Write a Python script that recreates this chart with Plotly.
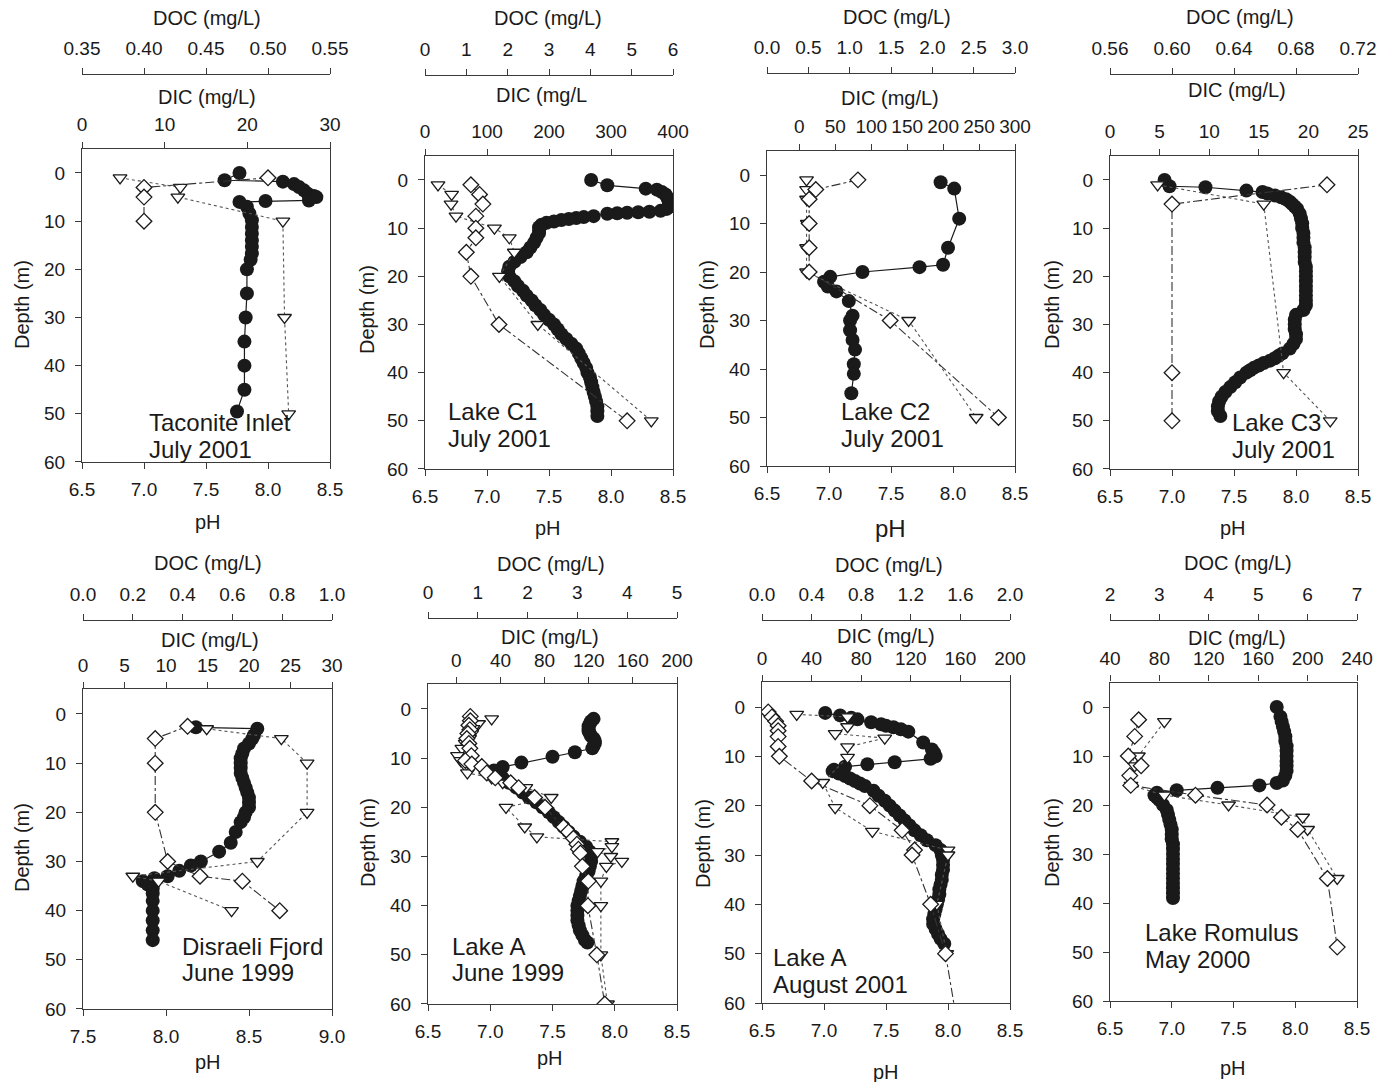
import plotly.graph_objects as go

W, H = 1393, 1082
FONT = "Liberation Sans, Arial, sans-serif"

# ---------------- Taconite Inlet, July 2001 ----------------
taconite_ph_depth = [0, 1.5, 1.8, 2.3, 2.9, 3.6, 4.3, 4.8, 5.0, 5.7, 5.8, 6.0, 7, 8.4, 9.8,
                     11.2, 12.6, 14, 15.3, 16.7, 18, 20, 25, 30, 35, 40, 45, 49.5]
taconite_ph = [7.77, 7.65, 8.12, 8.21, 8.25, 8.29, 8.32, 8.37, 8.39, 8.33, 7.98, 7.77, 7.83, 7.85, 7.87,
               7.87, 7.87, 7.87, 7.87, 7.87, 7.86, 7.83, 7.83, 7.82, 7.81, 7.81, 7.81, 7.75]
taconite_dic_depth = [1, 3, 5, 10, 30, 50]
taconite_dic = [4.6, 11.9, 11.6, 24.3, 24.5, 25.0]
taconite_doc_depth = [1, 3, 5, 10]
taconite_doc = [0.50, 0.40, 0.40, 0.40]

# ---------------- Lake C1, July 2001 ----------------
c1_ph_depth = [0, 1.1, 1.8, 2.0, 2.5, 3, 3.5, 4, 4.5, 5, 5.5, 6, 6.4, 6.6, 6.7, 6.8, 6.9, 7.0, 7.5, 7.7,
               7.9, 8.1, 8.3, 8.6, 8.9, 9.3, 9.8, 10.5, 11, 12, 13, 14, 15, 16, 17, 18, 19, 20, 21, 22,
               23, 24, 25, 26, 27, 28, 29, 30, 31, 32, 33, 34, 35, 36, 37, 38, 39, 40, 41, 42,
               43, 44, 45, 46, 47, 48, 49]
c1_ph = [7.84, 7.97, 8.28, 8.37, 8.41, 8.44, 8.45, 8.46, 8.47, 8.47, 8.47, 8.45, 8.40, 8.31, 8.22, 8.13, 8.05, 7.97, 7.86, 7.78,
         7.72, 7.66, 7.60, 7.54, 7.48, 7.44, 7.42, 7.42, 7.42, 7.40, 7.38, 7.35, 7.32, 7.27, 7.22, 7.18, 7.17, 7.18, 7.22, 7.25,
         7.29, 7.32, 7.36, 7.39, 7.43, 7.46, 7.50, 7.54, 7.57, 7.60, 7.64, 7.68, 7.72, 7.74, 7.76, 7.78, 7.80, 7.81, 7.83, 7.84,
         7.85, 7.86, 7.87, 7.88, 7.89, 7.89, 7.89]
c1_dic_depth = [1, 3, 5, 7.5, 10, 12, 15, 20, 30, 50]
c1_dic = [21, 43, 42, 50, 112, 136, 144, 120, 182, 365]
c1_doc_depth = [1, 3, 5, 7.5, 10, 12, 15, 20, 30, 50]
c1_doc = [1.11, 1.32, 1.40, 1.23, 1.23, 1.23, 1.00, 1.11, 1.79, 4.89]

# ---------------- Lake C2, July 2001 ----------------
c2_ph_depth = [1.5, 2.8, 9, 15, 18.5, 19, 20, 21, 22, 23, 24, 26, 29, 30, 32, 34, 36, 39, 41, 45]
c2_ph = [7.90, 8.01, 8.05, 7.96, 7.92, 7.73, 7.27, 7.01, 6.96, 6.99, 7.06, 7.16, 7.19, 7.17, 7.17, 7.19, 7.21, 7.20, 7.20, 7.18]
c2_dic_depth = [1, 3, 5, 10, 15, 20, 30, 50]
c2_dic = [10, 10, 10, 11, 10, 10, 152, 246]
c2_doc_depth = [1, 3, 5, 10, 15, 20, 30, 50]
c2_doc = [1.10, 0.59, 0.51, 0.51, 0.51, 0.51, 1.49, 2.80]

# ---------------- Lake C3, July 2001 ----------------
c3_ph_depth = [0, 1.3, 1.5, 2.2, 2.5, 2.8, 3.2, 3.6, 4, 4.5, 5, 5.5, 6, 7, 8, 9, 10, 11, 12, 13,
               14, 15, 16, 17, 18, 19, 20, 21, 22, 23, 24, 25, 26, 27, 28, 29, 30, 31, 32, 33,
               34, 35, 36, 36.5, 37, 37.5, 38, 38.5, 39, 39.5, 40, 41, 42, 43, 44, 45, 46, 47, 48, 49]
c3_ph = [6.94, 6.98, 7.27, 7.60, 7.73, 7.77, 7.83, 7.88, 7.92, 7.95, 7.97, 7.99, 8.01, 8.03, 8.04, 8.05, 8.05, 8.06, 8.06, 8.06,
         8.07, 8.07, 8.07, 8.07, 8.08, 8.08, 8.08, 8.08, 8.08, 8.08, 8.08, 8.08, 8.08, 8.06, 8.00, 7.99, 7.99, 7.99, 8.00, 8.00,
         7.98, 7.95, 7.89, 7.86, 7.83, 7.79, 7.74, 7.70, 7.66, 7.63, 7.60, 7.55, 7.51, 7.47, 7.43, 7.40, 7.38, 7.37, 7.37, 7.39]
c3_dic_depth = [1, 5, 40, 50]
c3_dic = [4.8, 15.5, 17.5, 22.2]
c3_doc_depth = [1, 5, 40, 50]
c3_doc = [0.70, 0.60, 0.60, 0.60]

# ---------------- Disraeli Fjord, June 1999 ----------------
disraeli_ph_depth = [2.7, 3.0, 4.3, 5, 6, 7, 8, 9, 10, 11, 12, 13, 14, 15, 16, 17, 18, 19, 20, 21, 22,
                     24, 26.2, 28, 30, 30.8, 31.9, 33.0, 33.4, 34.0, 34.7, 35.5, 36.5, 38, 40, 42, 44, 46]
disraeli_ph = [8.18, 8.55, 8.53, 8.52, 8.50, 8.47, 8.46, 8.45, 8.45, 8.45, 8.45, 8.46, 8.47, 8.48, 8.49, 8.50, 8.50, 8.50, 8.48, 8.47, 8.45,
               8.42, 8.39, 8.32, 8.21, 8.15, 8.08, 8.01, 7.93, 7.86, 7.89, 7.92, 7.92, 7.92, 7.92, 7.92, 7.92, 7.92]
disraeli_dic_depth = [3, 5, 10, 20, 30, 33, 34, 40]
disraeli_dic = [14.9, 23.9, 27.0, 27.0, 21.0, 6.0, 9.1, 17.9]
disraeli_doc_depth = [2.5, 5, 10, 20, 30, 33, 34, 40]
disraeli_doc = [0.42, 0.29, 0.29, 0.29, 0.34, 0.47, 0.64, 0.79]

# ---------------- Lake A, June 1999 ----------------
a99_ph_depth = [2, 2.5, 3, 3.5, 4, 4.5, 5, 5.5, 6, 6.5, 7, 7.5, 8, 8.8, 9.7, 10.9, 11.8, 12.5, 13, 14,
                15, 16, 17, 18, 19, 20, 21, 22, 23, 24, 25, 26, 27, 28, 29, 30, 31, 32, 33, 34,
                35, 36, 37, 38, 39, 40, 41, 42, 43, 44, 45, 46, 47, 47.5]
a99_ph = [7.83, 7.81, 7.80, 7.79, 7.79, 7.79, 7.80, 7.81, 7.83, 7.84, 7.84, 7.83, 7.82, 7.68, 7.50, 7.25, 7.10, 7.03, 7.05, 7.10,
          7.15, 7.21, 7.26, 7.31, 7.37, 7.42, 7.47, 7.51, 7.55, 7.59, 7.63, 7.67, 7.72, 7.77, 7.80, 7.81, 7.81, 7.80, 7.79, 7.77,
          7.75, 7.74, 7.73, 7.72, 7.71, 7.70, 7.70, 7.70, 7.70, 7.71, 7.72, 7.74, 7.76, 7.78]
a99_dic_depth = [2, 3, 4, 5, 6, 7, 8, 9.5, 10.5, 11.5, 13, 14, 15, 16, 18, 20, 24, 26, 27, 28,
                 29, 30, 31, 32, 35, 40, 50, 60]
a99_dic = [32, 20, 15, 14, 12, 8, 5, 1, 4, 8, 10, 32, 42, 63, 86, 45, 62, 73, 141, 141,
           128, 140, 150, 136, 131, 131, 131, 137]
a99_doc_depth = [1.5, 2.4, 3.3, 4.2, 5, 6, 7, 8, 9.5, 10.5, 11.2, 11.7, 13, 14, 15, 16, 18, 20, 24, 25,
                 26.3, 27.5, 28.5, 29.3, 32, 35, 40, 50, 60]
a99_doc = [0.85, 0.85, 0.82, 0.84, 0.80, 0.78, 0.82, 0.84, 0.87, 0.75, 0.88, 1.08, 1.18, 1.35, 1.66, 1.82, 2.14, 2.35, 2.72, 2.82,
           2.92, 2.99, 3.02, 3.06, 3.10, 3.22, 3.21, 3.39, 3.55]

# ---------------- Lake A, August 2001 ----------------
a01_ph_depth = [1.2, 1.7, 2.2, 2.5, 3.1, 3.5, 3.8, 4.1, 4.5, 5.0, 7.2, 8.6, 9.3, 10, 10.5, 11.2, 11.6, 12.1, 12.7, 13,
                13.5, 14, 14.5, 15, 15.5, 16, 17, 18, 19, 20, 21, 22, 23, 24, 25, 26, 27, 28, 29, 30,
                31, 32, 33, 34, 35, 36, 37, 38, 39, 40, 41, 42, 43, 44, 45, 46, 47, 48]
a01_ph = [7.01, 7.13, 7.22, 7.27, 7.38, 7.46, 7.50, 7.56, 7.62, 7.68, 7.80, 7.87, 7.89, 7.90, 7.86, 7.57, 7.35, 7.17, 7.08, 7.07,
          7.12, 7.17, 7.21, 7.25, 7.29, 7.33, 7.40, 7.44, 7.49, 7.53, 7.57, 7.61, 7.65, 7.69, 7.73, 7.78, 7.83, 7.90, 7.94, 7.95,
          7.96, 7.96, 7.96, 7.95, 7.95, 7.94, 7.93, 7.93, 7.92, 7.91, 7.90, 7.89, 7.88, 7.88, 7.90, 7.92, 7.94, 7.97]
a01_dic_depth = [1.5, 2.0, 4.0, 5.4, 6.3, 8.1, 10.2, 15.3, 20.4, 25.2, 29, 30, 40, 50]
a01_dic = [28, 69, 69, 59, 99, 69, 69, 49, 59, 89, 150, 150, 141, 149]
a01_doc_depth = [1, 2, 2.9, 3.8, 4.8, 6, 8, 10, 15, 20, 25, 29, 30, 40, 50, 62]
a01_doc = [0.05, 0.08, 0.11, 0.13, 0.13, 0.13, 0.13, 0.14, 0.40, 0.87, 1.13, 1.23, 1.21, 1.36, 1.48, 1.56]

# ---------------- Lake Romulus, May 2000 ----------------
romulus_ph_depth = [0, 2, 3, 4, 5, 6, 7, 8, 9, 10, 11, 12, 13, 14, 15, 15.5, 16, 16.5, 17, 17.5,
                    18, 18.5, 19, 20, 21, 22, 23, 24, 25, 26, 27, 28, 29, 30, 31, 32, 33, 34, 35, 36,
                    37, 38, 39]
romulus_ph = [7.85, 7.88, 7.89, 7.90, 7.91, 7.92, 7.92, 7.93, 7.93, 7.93, 7.93, 7.93, 7.93, 7.92, 7.90, 7.85, 7.71, 7.37, 7.04, 6.88,
              6.86, 6.88, 6.90, 6.93, 6.96, 6.97, 6.98, 6.99, 7.00, 7.00, 7.00, 7.01, 7.01, 7.01, 7.01, 7.01, 7.01, 7.01, 7.01, 7.01,
              7.01, 7.01, 7.01]
romulus_dic_depth = [3, 10, 12, 16, 18, 20, 22.5, 25, 35]
romulus_dic = [84, 63, 60, 57, 84, 136, 196, 200, 224]
romulus_doc_depth = [2.6, 6, 10, 12, 14, 16, 18, 20, 22.5, 25, 35, 49]
romulus_doc = [2.58, 2.50, 2.37, 2.63, 2.40, 2.42, 3.73, 5.18, 5.47, 5.80, 6.40, 6.60]

site_labels = [
    ("Taconite Inlet", "July 2001"), ("Lake C1", "July 2001"), ("Lake C2", "July 2001"),
    ("Lake C3", "July 2001"), ("Disraeli Fjord", "June 1999"), ("Lake A", "June 1999"),
    ("Lake A", "August 2001"), ("Lake Romulus", "May 2000"),
]

series = [
    (taconite_ph_depth, taconite_ph, taconite_dic_depth, taconite_dic, taconite_doc_depth, taconite_doc),
    (c1_ph_depth, c1_ph, c1_dic_depth, c1_dic, c1_doc_depth, c1_doc),
    (c2_ph_depth, c2_ph, c2_dic_depth, c2_dic, c2_doc_depth, c2_doc),
    (c3_ph_depth, c3_ph, c3_dic_depth, c3_dic, c3_doc_depth, c3_doc),
    (disraeli_ph_depth, disraeli_ph, disraeli_dic_depth, disraeli_dic, disraeli_doc_depth, disraeli_doc),
    (a99_ph_depth, a99_ph, a99_dic_depth, a99_dic, a99_doc_depth, a99_doc),
    (a01_ph_depth, a01_ph, a01_dic_depth, a01_dic, a01_doc_depth, a01_doc),
    (romulus_ph_depth, romulus_ph, romulus_dic_depth, romulus_dic, romulus_doc_depth, romulus_doc),
]

# axis scales per panel: (range, tick0, dtick, format)
ph_axes = [
    ([6.5, 8.5], 6.5, 0.5, ".1f")] * 4 + [([7.5, 9.0], 7.5, 0.5, ".1f")] + [([6.5, 8.5], 6.5, 0.5, ".1f")] * 3
dic_axes = [
    ([0, 30], 0, 10, "d"), ([0, 400], 0, 100, "d"), ([-45, 300], 0, 50, "d"), ([0, 25], 0, 5, "d"),
    ([0, 30], 0, 5, "d"), ([-25.7, 200], 0, 40, "d"), ([0, 200], 0, 40, "d"), ([40, 240], 40, 40, "d"),
]
doc_axes = [
    ([0.35, 0.55], 0.35, 0.05, ".2f"), ([0, 6], 0, 1, "d"), ([0, 3], 0, 0.5, ".1f"), ([0.56, 0.72], 0.56, 0.04, ".2f"),
    ([0, 1], 0, 0.2, ".1f"), ([0, 5], 0, 1, "d"), ([0, 2], 0, 0.4, ".1f"), ([2, 7], 2, 1, "d"),
]
dic_titles = ["DIC (mg/L)", "DIC (mg/L", "DIC (mg/L)", "DIC (mg/L)",
              "DIC (mg/L)", "DIC (mg/L)", "DIC (mg/L)", "DIC (mg/L)"]

# panel geometry in pixels: left, right, y of depth 0, y of depth 60, y of DOC axis line
geom = [
    (82, 330, 173, 462, 74), (425, 673, 180, 469, 75), (767, 1015, 175, 466, 73), (1110, 1358, 180, 469, 74),
    (83, 332, 714, 1009, 620), (428, 677, 709, 1004, 618), (762, 1010, 707, 1003, 620), (1110, 1357, 707, 1001, 620),
]
# title anchor positions (x, y) for DOC, DIC, pH, Depth; site label (x, y1, y2)
title_pos = [
    ((207, 18), (207, 97), (208, 522), (22, 305), (147, 423, 450)),
    ((548, 18), (541, 95), (548, 528), (367, 310), (446, 411, 439)),
    ((897, 17), (890, 98), (890, 528), (707, 305), (839, 411, 438)),
    ((1240, 17), (1237, 90), (1233, 528), (1052, 305), (1230, 422, 450)),
    ((208, 563), (210, 640), (208, 1062), (22, 848), (180, 946, 972)),
    ((551, 564), (550, 637), (550, 1058), (368, 843), (450, 946, 972)),
    ((889, 565), (886, 636), (886, 1072), (703, 843), (771, 957, 984)),
    ((1238, 563), (1237, 638), (1233, 1068), (1052, 843), (1143, 932, 959)),
]

INK = "#1a1a1a"
AX = "#3a3a3a"
TICK_FONT = dict(family=FONT, size=19, color=INK)

fig = go.Figure()
layout = dict(
    width=W, height=H, margin=dict(l=0, r=0, t=0, b=0, pad=0, autoexpand=False),
    paper_bgcolor="white", plot_bgcolor="white", showlegend=False,
    font=dict(family=FONT, color=INK),
)
annotations = []


def px(x):
    return x / W


def py(y):
    return 1 - y / H


for i in range(8):
    ph_d, ph_v, dic_d, dic_v, doc_d, doc_v = series[i]
    left, right, y0, y60, docline = geom[i]
    ppm = (y60 - y0) / 60.0
    ytop = y0 - 5 * ppm
    xa, xb, xc = 3 * i + 1, 3 * i + 2, 3 * i + 3
    ya = i + 1
    name = lambda n: "" if n == 1 else str(n)

    dom_x = [px(left), px(right)]
    dom_y = [py(y60), py(ytop)]

    common = dict(showgrid=False, zeroline=False, showline=True, linecolor=AX, linewidth=1.2,
                  ticks="outside", ticklen=6, tickwidth=1.2, tickcolor=AX, tickfont=TICK_FONT,
                  automargin=False)

    r, t0, dt, fmt = ph_axes[i]
    layout["xaxis" + name(xa)] = dict(domain=dom_x, range=r, tick0=t0, dtick=dt, tickformat=fmt,
                                      anchor="y" + name(ya), side="bottom", ticklabelstandoff=4, **common)
    r, t0, dt, fmt = dic_axes[i]
    layout["xaxis" + name(xb)] = dict(range=r, tick0=t0, dtick=dt, tickformat=fmt,
                                      anchor="y" + name(ya), side="top", ticklabelstandoff=3,
                                      overlaying="x" + name(xa), **common)
    r, t0, dt, fmt = doc_axes[i]
    layout["xaxis" + name(xc)] = dict(range=r, tick0=t0, dtick=dt, tickformat=fmt,
                                      anchor="free", position=py(docline), side="top", ticklabelstandoff=5,
                                      overlaying="x" + name(xa), **common)
    layout["yaxis" + name(ya)] = dict(domain=dom_y, range=[60, -5], tickvals=[0, 10, 20, 30, 40, 50, 60],
                                      anchor="x" + name(xa), mirror=True, ticklabelstandoff=6, **common)

    # pH profile
    fig.add_trace(go.Scatter(
        x=ph_v, y=ph_d, xaxis="x" + name(xa), yaxis="y" + name(ya), mode="lines+markers",
        line=dict(color=INK, width=1.2),
        marker=dict(symbol="circle", size=14, color=INK, line=dict(width=0))))
    # DIC profile
    fig.add_trace(go.Scatter(
        x=dic_v, y=dic_d, xaxis="x" + name(xb), yaxis="y" + name(ya), mode="lines+markers",
        line=dict(color="#555555", width=1.1, dash="dot"),
        marker=dict(symbol="triangle-down", size=12, color="white", line=dict(color=INK, width=1.3))))
    # DOC profile
    fig.add_trace(go.Scatter(
        x=doc_v, y=doc_d, xaxis="x" + name(xc), yaxis="y" + name(ya), mode="lines+markers",
        line=dict(color="#333333", width=1.1, dash="dashdot"),
        marker=dict(symbol="diamond", size=12, color="white", line=dict(color=INK, width=1.3))))

    (dx, dy), (cx, cy), (hx, hy), (zx, zy), (lx, l1, l2) = title_pos[i]
    tf = dict(family=FONT, size=20, color=INK)
    annotations += [
        dict(text="DOC (mg/L)", x=px(dx), y=py(dy), font=tf),
        dict(text=dic_titles[i], x=px(cx), y=py(cy), font=tf),
        dict(text="pH", x=px(hx), y=py(hy), font=dict(family=FONT, size=24 if i == 2 else 20, color=INK)),
        dict(text="Depth (m)", x=px(zx), y=py(zy), font=tf, textangle=-90),
    ]
    lab_font = dict(family=FONT, size=24, color=INK)
    annotations += [
        dict(text=site_labels[i][0], x=px(lx), y=py(l1), font=lab_font, xanchor="left"),
        dict(text=site_labels[i][1], x=px(lx), y=py(l2), font=lab_font, xanchor="left"),
    ]

for a in annotations:
    a.setdefault("xanchor", "center")
    a.update(xref="paper", yref="paper", yanchor="middle", showarrow=False)

layout["annotations"] = annotations
fig.update_layout(**layout)
fig.write_html("out.html")
